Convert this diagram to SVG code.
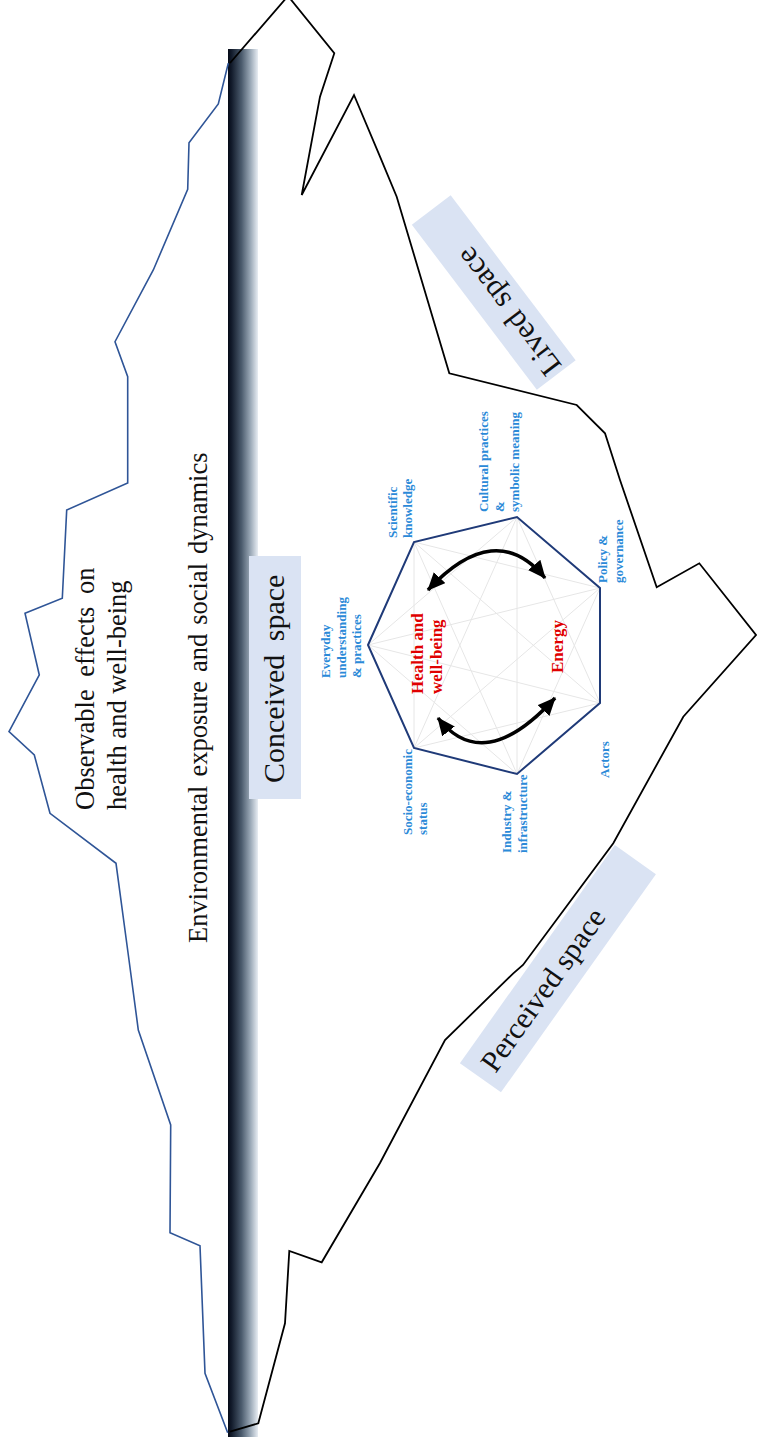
<svg xmlns="http://www.w3.org/2000/svg" width="757" height="1444" viewBox="0 0 757 1444">
  <defs>
    <linearGradient id="barFade" x1="0" y1="0" x2="1" y2="0">
      <stop offset="0" stop-color="#050a17"/>
      <stop offset="0.12" stop-color="#121b2b"/>
      <stop offset="0.45" stop-color="#4b5b6d"/>
      <stop offset="0.75" stop-color="#9ba9b7"/>
      <stop offset="1" stop-color="#e8edf3"/>
    </linearGradient>
    <marker id="head" viewBox="0 0 18 16" refX="17" refY="8" markerWidth="18" markerHeight="16" markerUnits="userSpaceOnUse" orient="auto-start-reverse">
      <path d="M0,0 L18,8 L0,16 Z" fill="#000"/>
    </marker>
    <style>
      .big { font-family: "Liberation Serif", "Times New Roman", serif; font-size: 26.5px; fill: #111; }
      .box { fill: #dae3f3; }
      .boxlabel { font-family: "Liberation Serif", "Times New Roman", serif; font-size: 30px; fill: #111; }
      .factor { font-family: "Liberation Serif", "Times New Roman", serif; font-size: 13px; font-weight: bold; fill: #2b8ad8; }
      .core { font-family: "Liberation Serif", "Times New Roman", serif; font-size: 17px; font-weight: bold; fill: #e00000; }
      .tip { fill: none; stroke: #2f5597; stroke-width: 1.6; stroke-linejoin: miter; }
      .base { fill: none; stroke: #000; stroke-width: 1.8; stroke-linejoin: miter; }
      .link { fill: none; stroke: #000; stroke-width: 3.5; }
    </style>
  </defs>

  <rect width="757" height="1444" fill="#fff"/>

  <!-- waterline bar -->
  <g id="waterline">
    <rect x="228" y="49" width="30" height="1388" fill="url(#barFade)"/>
  </g>

  <!-- visible part of the iceberg -->
  <g id="iceberg-tip">
    <polyline class="tip" points="228.3,63.3 218.3,104 189,142.7 187.7,189.3 153.3,270 115,341.7 127.7,376.7 127.7,483 66.7,510 62.3,598.3 25,613.3 39.3,675 9,731.7 34.3,755 50,813.3 116,863.3 129,960 138.3,1030 170.7,1125 170,1232.7 200,1245.7 205,1373.3 227.7,1432.7"/>
  </g>

  <!-- submerged part of the iceberg -->
  <g id="iceberg-base">
    <polyline class="base" points="230,63 288,-4 334.3,53.3 320,96.7 301.7,195 354,95 380,156.7 396.7,196.7 449.3,373.3 576.7,405 605,433.3 620,480 656.7,587.3 699.3,563.3 756,635 683.3,716.7 613.3,843.3 523,965 513.3,973.3 445,1040 380,1163 321.7,1262.3 289.3,1251 285,1323.3 258.3,1423.3 230,1431.7"/>
  </g>

  <!-- above-water captions -->
  <g id="observable-effects">
    <text class="big" transform="translate(94,810) rotate(-90)"><tspan x="0" y="0" word-spacing="6">Observable effects on</tspan><tspan x="0" dy="32">health and well-being</tspan></text>
  </g>
  <g id="exposure">
    <text class="big" transform="translate(207,943) rotate(-90)" word-spacing="2.3">Environmental exposure and social dynamics</text>
  </g>

  <!-- space labels -->
  <g id="conceived-space">
    <rect class="box" x="249" y="556" width="52" height="243"/>
    <text class="boxlabel" transform="translate(284,783) rotate(-90)" word-spacing="6">Conceived space</text>
  </g>
  <g id="lived-space" transform="translate(493.75,292.5) rotate(-127.15)">
    <rect class="box" x="-103.5" y="-24.35" width="207" height="48.7"/>
    <text class="boxlabel" x="-100" y="10.5" style="font-size:31px" word-spacing="3">Lived space</text>
  </g>
  <g id="perceived-space" transform="translate(557.9,968.7) rotate(-54.6)">
    <rect class="box" x="-133.75" y="-25.2" width="267.5" height="50.4"/>
    <text class="boxlabel" x="-122" y="10">Perceived space</text>
  </g>

  <!-- actor heptagon with all cross links -->
  <g id="heptagon">
    <path d="M368,645 L517,517 M368,645 L600,588 M368,645 L600,703 M368,645 L517,774 M414,542 L600,588 M414,542 L600,703 M414,542 L517,774 M414,542 L414,748 M517,517 L600,703 M517,517 L517,774 M517,517 L414,748 M600,588 L517,774 M600,588 L414,748 M600,703 L414,748" fill="none" stroke="#e6e6e6" stroke-width="1"/>
    <polygon points="368,645 414,542 517,517 600,588 600,703 517,774 414,748" fill="none" stroke="#1f3a78" stroke-width="2"/>
  </g>

  <g id="health">
    <text class="core" transform="translate(422.5,694) rotate(-90)"><tspan x="0" y="0">Health and</tspan><tspan x="0" dy="19.5">well-being</tspan></text>
  </g>
  <g id="energy">
    <text class="core" transform="translate(563,673) rotate(-90)">Energy</text>
  </g>

  <!-- factor labels at the heptagon corners -->
  <g id="everyday">
    <text class="factor" transform="translate(330,678) rotate(-90)"><tspan x="0" y="0">Everyday</tspan><tspan x="0" dy="16">understanding</tspan><tspan x="0" dy="15">&amp; practices</tspan></text>
  </g>
  <g id="scientific">
    <text class="factor" transform="translate(397,538) rotate(-90)"><tspan x="0" y="0">Scientific</tspan><tspan x="0" dy="15">knowledge</tspan></text>
  </g>
  <g id="cultural">
    <text class="factor" transform="translate(488,512) rotate(-90)"><tspan x="0" y="0">Cultural practices</tspan><tspan x="0" dy="15.5">&amp;</tspan><tspan x="0" dy="15.5">symbolic meaning</tspan></text>
  </g>
  <g id="policy">
    <text class="factor" transform="translate(607,583) rotate(-90)"><tspan x="0" y="0">Policy &amp;</tspan><tspan x="0" dy="16">governance</tspan></text>
  </g>
  <g id="socio-economic">
    <text class="factor" transform="translate(412,835) rotate(-90)"><tspan x="0" y="0">Socio-economic</tspan><tspan x="0" dy="15">status</tspan></text>
  </g>
  <g id="industry">
    <text class="factor" transform="translate(511,853) rotate(-90)"><tspan x="0" y="0">Industry &amp;</tspan><tspan x="0" dy="16">infrastructure</tspan></text>
  </g>
  <g id="actors">
    <text class="factor" transform="translate(609,778) rotate(-90)">Actors</text>
  </g>

  <!-- two-way links between health and energy -->
  <g id="connectors">
    <path class="link" d="M428,590 Q495.5,518 545,578" marker-start="url(#head)" marker-end="url(#head)"/>
    <path class="link" d="M438,718 Q483.5,776 555,698" marker-start="url(#head)" marker-end="url(#head)"/>
  </g>
</svg>
